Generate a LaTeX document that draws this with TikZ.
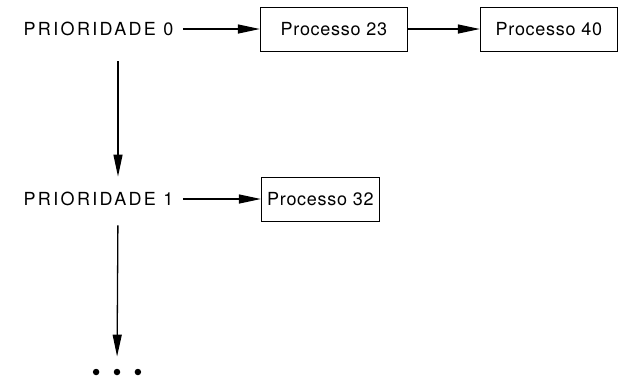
\documentclass[tikz,border=0pt]{standalone}
\usepackage{fontspec}
\setmainfont{TeX Gyre Heros}
\usetikzlibrary{arrows.meta,positioning}

\begin{document}
\begin{tikzpicture}[
    x=1pt, y=1pt,
    font=\fontsize{18}{20}\selectfont,
    % Styles
    prio_label/.style={
        font=\fontsize{18}{20}\selectfont\addfontfeature{LetterSpace=13}
    },
    proc_box/.style={
        rectangle, draw=black, line width=1pt, minimum height=44pt,
        font=\fontsize{18}{20}\selectfont\addfontfeature{LetterSpace=4}
    },
    link/.style={
        line width=1.3pt, -{Triangle[length=22pt,width=9pt]}
    },
    dot/.style={
        circle, fill=black, inner sep=0pt, minimum size=6.5pt
    }
]
\useasboundingbox (0,0) rectangle (619,-381);

% 1. Priority 0 queue
\node[prio_label] (prio0) at (98.5,-29) {PRIORIDADE 0};
\node[proc_box, minimum width=147pt, right=83pt of prio0] (p23) {Processo 23};
\node[proc_box, minimum width=137pt, right=72pt of p23] (p40) {Processo 40};

% 2. Priority 1 queue
\node[prio_label] (prio1) at (98.5,-199) {PRIORIDADE 1};
\node[proc_box, minimum width=118pt, right=84pt of prio1] (p32) {Processo 32};

% 3. More priorities
\node[dot] (more) at (117,-372) {};
\node[dot, left=14pt of more] (more_l) {};
\node[dot, right=14pt of more] (more_r) {};

% --- Connections ---
\draw[link, shorten <=6pt] (prio0) -- (p23);
\draw[link] (p23) -- (p40);
\draw[link, shorten <=6pt] (prio1) -- (p32);

% Down the queue list
\draw[link, shorten <=22pt, shorten >=12pt] ([xshift=19.5pt]prio0.south) -- ([xshift=19.5pt]prio1.north);
\draw[link, shorten <=16pt, shorten >=12pt] ([xshift=19.5pt]prio1.south) -- (more.north);

\end{tikzpicture}
\end{document}
